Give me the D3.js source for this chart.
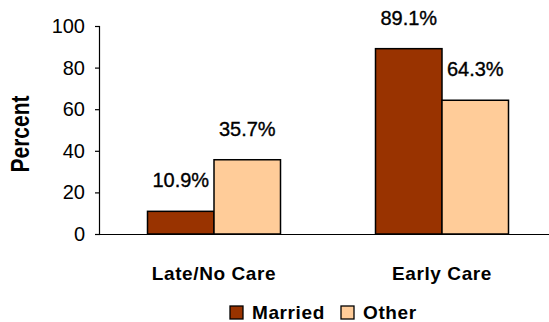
<!DOCTYPE html>
<html>
<head>
<meta charset="utf-8">
<script src="https://cdn.jsdelivr.net/npm/d3@7"></script>
<style>
  html, body { margin: 0; padding: 0; background: #fff; }
  svg { display: block; }
  text { font-family: "Liberation Sans", Arial, sans-serif; fill: #000; }
</style>
</head>
<body>
<svg id="chart" width="549" height="322"></svg>
<script>
// Timing of prenatal care by marital status (percent)
const categories = ["Late/No Care", "Early Care"];
const seriesNames = ["Married", "Other"];
const married = [10.9, 89.1];
const other = [35.7, 64.3];
const yTicks = [0, 20, 40, 60, 80, 100];
const colors = ["#993300", "#FFCC99"];

const values = [married, other];
const svg = d3.select("#chart");

const plotLeft = 100, plotRight = 556, plotTop = 26, plotBottom = 234;

const y = d3.scaleLinear().domain([0, 100]).range([plotBottom, plotTop]);
const x0 = d3.scaleBand().domain(categories).range([plotLeft, plotRight]).padding(0);
const groupWidth = 133;
const x1 = d3.scaleBand().domain(seriesNames).range([0, groupWidth]).padding(0);
const groupOffset = (x0.bandwidth() - groupWidth) / 2;

// Y axis
const yAxis = d3.axisLeft(y).tickValues(yTicks).tickSize(5).tickPadding(10).tickFormat(d3.format("d"));
const gy = svg.append("g").attr("transform", `translate(${plotLeft},0)`).call(yAxis);
gy.select(".domain").attr("d", `M-0.5,${plotTop}V${plotBottom}`).attr("stroke", "#000").attr("stroke-width", 1.2);
gy.selectAll(".tick line").attr("stroke", "#000").attr("stroke-width", 1.2);
gy.selectAll(".tick text").style("font-size", "20px").style("font-family", "Liberation Sans, Arial, sans-serif").attr("fill", "#000");

// Y axis title
svg.append("text")
  .attr("transform", `translate(29,134) rotate(-90)`)
  .attr("text-anchor", "middle")
  .attr("textLength", 77)
  .attr("lengthAdjust", "spacingAndGlyphs")
  .style("font-size", "25px")
  .style("font-weight", "bold")
  .text("Percent");

// Bars
const groups = svg.append("g").selectAll("g")
  .data(categories)
  .join("g")
  .attr("transform", d => `translate(${x0(d) + groupOffset},0)`);

groups.selectAll("rect")
  .data((c, i) => seriesNames.map((s, j) => ({ series: s, value: values[j][i], color: colors[j] })))
  .join("rect")
  .attr("x", d => x1(d.series))
  .attr("y", d => y(d.value))
  .attr("width", x1.bandwidth())
  .attr("height", d => plotBottom - y(d.value))
  .attr("fill", d => d.color)
  .attr("stroke", "#000")
  .attr("stroke-width", 1.5);

// Value labels
groups.selectAll("text.val")
  .data((c, i) => seriesNames.map((s, j) => ({ series: s, value: values[j][i] })))
  .join("text")
  .attr("class", "val")
  .attr("x", d => x1(d.series) + x1.bandwidth() / 2)
  .attr("y", d => y(d.value) - 24)
  .attr("text-anchor", "middle")
  .attr("stroke", "#000")
  .attr("stroke-width", 0.35)
  .style("font-size", "20px")
  .text(d => d3.format(".1f")(d.value) + "%");

// X axis baseline
const xAxis = d3.axisBottom(x0).tickSize(0).tickPadding(0);
const gx = svg.append("g").attr("transform", `translate(0,${plotBottom})`).call(xAxis);
gx.select(".domain").attr("d", `M${plotLeft - 5},0.5H${plotRight}`).attr("stroke", "#000").attr("stroke-width", 1.2);
gx.selectAll(".tick text")
  .attr("y", 46)
  .attr("dy", 0)
  .style("font-size", "19px")
  .style("font-weight", "bold")
  .style("letter-spacing", "0.6px")
  .style("font-family", "Liberation Sans, Arial, sans-serif")
  .attr("fill", "#000");

// Legend
const legendItems = [
  { name: seriesNames[0], color: colors[0], x: 230 },
  { name: seriesNames[1], color: colors[1], x: 341 }
];
const legend = svg.append("g");
legendItems.forEach(item => {
  legend.append("rect")
    .attr("x", item.x).attr("y", 306)
    .attr("width", 13).attr("height", 13)
    .attr("fill", item.color)
    .attr("stroke", "#000").attr("stroke-width", 1.3);
  legend.append("text")
    .attr("x", item.x + 22).attr("y", 319)
    .style("font-size", "19px")
    .style("font-weight", "bold")
    .style("letter-spacing", "0.6px")
    .text(item.name);
});
</script>
</body>
</html>
